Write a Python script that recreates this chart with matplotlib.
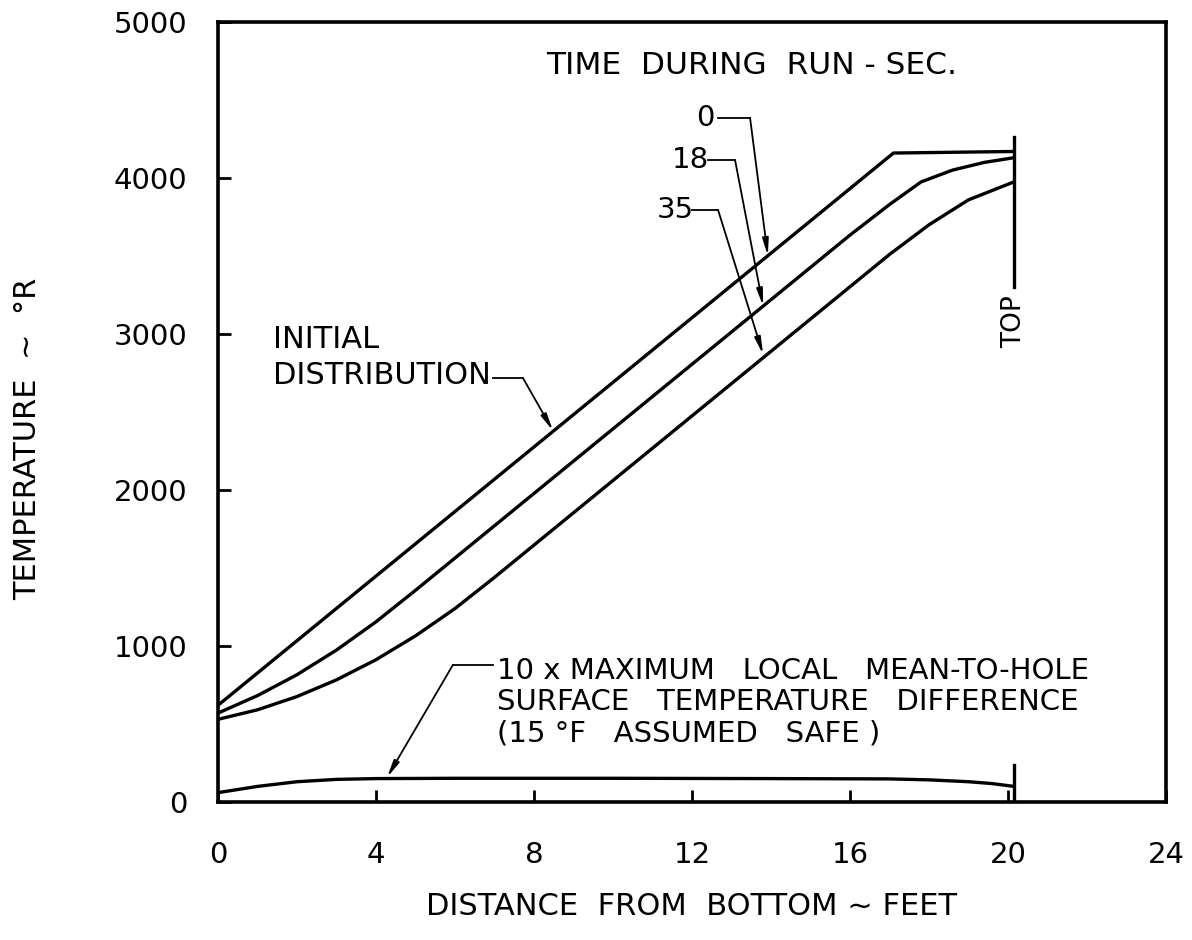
import matplotlib
matplotlib.use('Agg')
from matplotlib import pyplot as plt

plt.rcParams['font.family'] = ['DejaVu Sans']

# temperature profiles along the length
x_initial = [0, 17.1, 20.15]
t_initial = [620, 4160, 4170]

x_18 = [0, 1, 2, 3, 4, 5, 6, 8, 10, 12, 14, 16, 17, 17.8, 18.6, 19.4, 20.15]
t_18 = [570, 682, 816, 974, 1155, 1357, 1564, 1978, 2392, 2806, 3220, 3634, 3830, 3975, 4051, 4100, 4130]

x_35 = [0, 1, 2, 3, 4, 5, 6, 7, 8, 10, 12, 14, 16, 17, 18, 19, 20.15]
t_35 = [530, 591, 676, 783, 912, 1065, 1240, 1440, 1647, 2061, 2475, 2889, 3303, 3510, 3700, 3860, 3975]

x_diff = [0, 1, 2, 3, 4, 6, 10, 14, 17, 18, 19, 19.6, 20.15]
t_diff = [60, 100, 130, 145, 150, 152, 152, 150, 148, 142, 130, 118, 100]

top_x = 20.15
xticks = [0, 4, 8, 12, 16, 20, 24]
yticks = [0, 1000, 2000, 3000, 4000, 5000]

fig = plt.figure(figsize=(11.92, 9.4), dpi=100)
ax = fig.add_axes([218 / 1192, 1 - 802 / 940, 948 / 1192, 780 / 940])

lw = 2.4
for xs, ys in [(x_initial, t_initial), (x_18, t_18), (x_35, t_35), (x_diff, t_diff)]:
    ax.plot(xs, ys, color='black', lw=lw, solid_joinstyle='round', solid_capstyle='round')

# "TOP" marker line
ax.plot([top_x, top_x], [3300, 4260], color='black', lw=lw)
ax.plot([top_x, top_x], [0, 240], color='black', lw=lw)
ax.text(top_x, 3250, 'TOP', rotation=90, ha='center', va='top', fontsize=19)

ax.set_xlim(0, 24)
ax.set_ylim(0, 5000)
ax.set_xticks(xticks)
ax.set_yticks(yticks)
ax.tick_params(direction='in', length=9, width=2, labelsize=21)
ax.tick_params(axis='x', pad=28)
ax.tick_params(axis='y', pad=22)
for s in ax.spines.values():
    s.set_linewidth(2.6)

ax.set_xlabel('DISTANCE  FROM  BOTTOM ~ FEET', fontsize=22)
ax.set_ylabel('TEMPERATURE  ~  °R', fontsize=22)
ax.xaxis.set_label_coords(0.5, -0.115)
ax.yaxis.set_label_coords(-0.186, 0.465)

ax.text(13.5, 4718, 'TIME  DURING  RUN - SEC.', ha='center', va='center', fontsize=22.5)

# leader annotations: label, label pos, stub x range, arrow tip
arrow = dict(arrowstyle='-|>,head_length=1.0,head_width=0.18', color='black', lw=1.3,
             shrinkA=0, shrinkB=0)
leaders = [
    ('0', (12.33, 4385), (12.66, 13.47), (13.92, 3501)),
    ('18', (11.95, 4115), (12.41, 13.09), (13.80, 3179)),
    ('35', (11.57, 3795), (12.0, 12.66), (13.80, 2869)),
]
for txt, (tx, ty), (b0, b1), tip in leaders:
    ax.text(tx, ty, txt, ha='center', va='center', fontsize=21)
    ax.plot([b0, b1], [ty, ty], color='black', lw=1.3)
    ax.annotate('', xy=tip, xytext=(b1, ty), arrowprops=arrow)

ax.text(1.39, 2850, 'INITIAL\nDISTRIBUTION', ha='left', va='center', fontsize=22, linespacing=1.3)
ax.plot([6.96, 7.72], [2718, 2718], color='black', lw=1.3)
ax.annotate('', xy=(8.48, 2380), xytext=(7.72, 2718), arrowprops=arrow)

ax.text(7.06, 640, '10 x MAXIMUM   LOCAL   MEAN-TO-HOLE\nSURFACE   TEMPERATURE   DIFFERENCE\n(15 °F   ASSUMED   SAFE )',
        ha='left', va='center', fontsize=21, linespacing=1.15)
ax.plot([5.95, 6.96], [880, 880], color='black', lw=1.3)
ax.annotate('', xy=(4.28, 158), xytext=(5.95, 880), arrowprops=arrow)

fig.savefig('out.png', dpi=100)
